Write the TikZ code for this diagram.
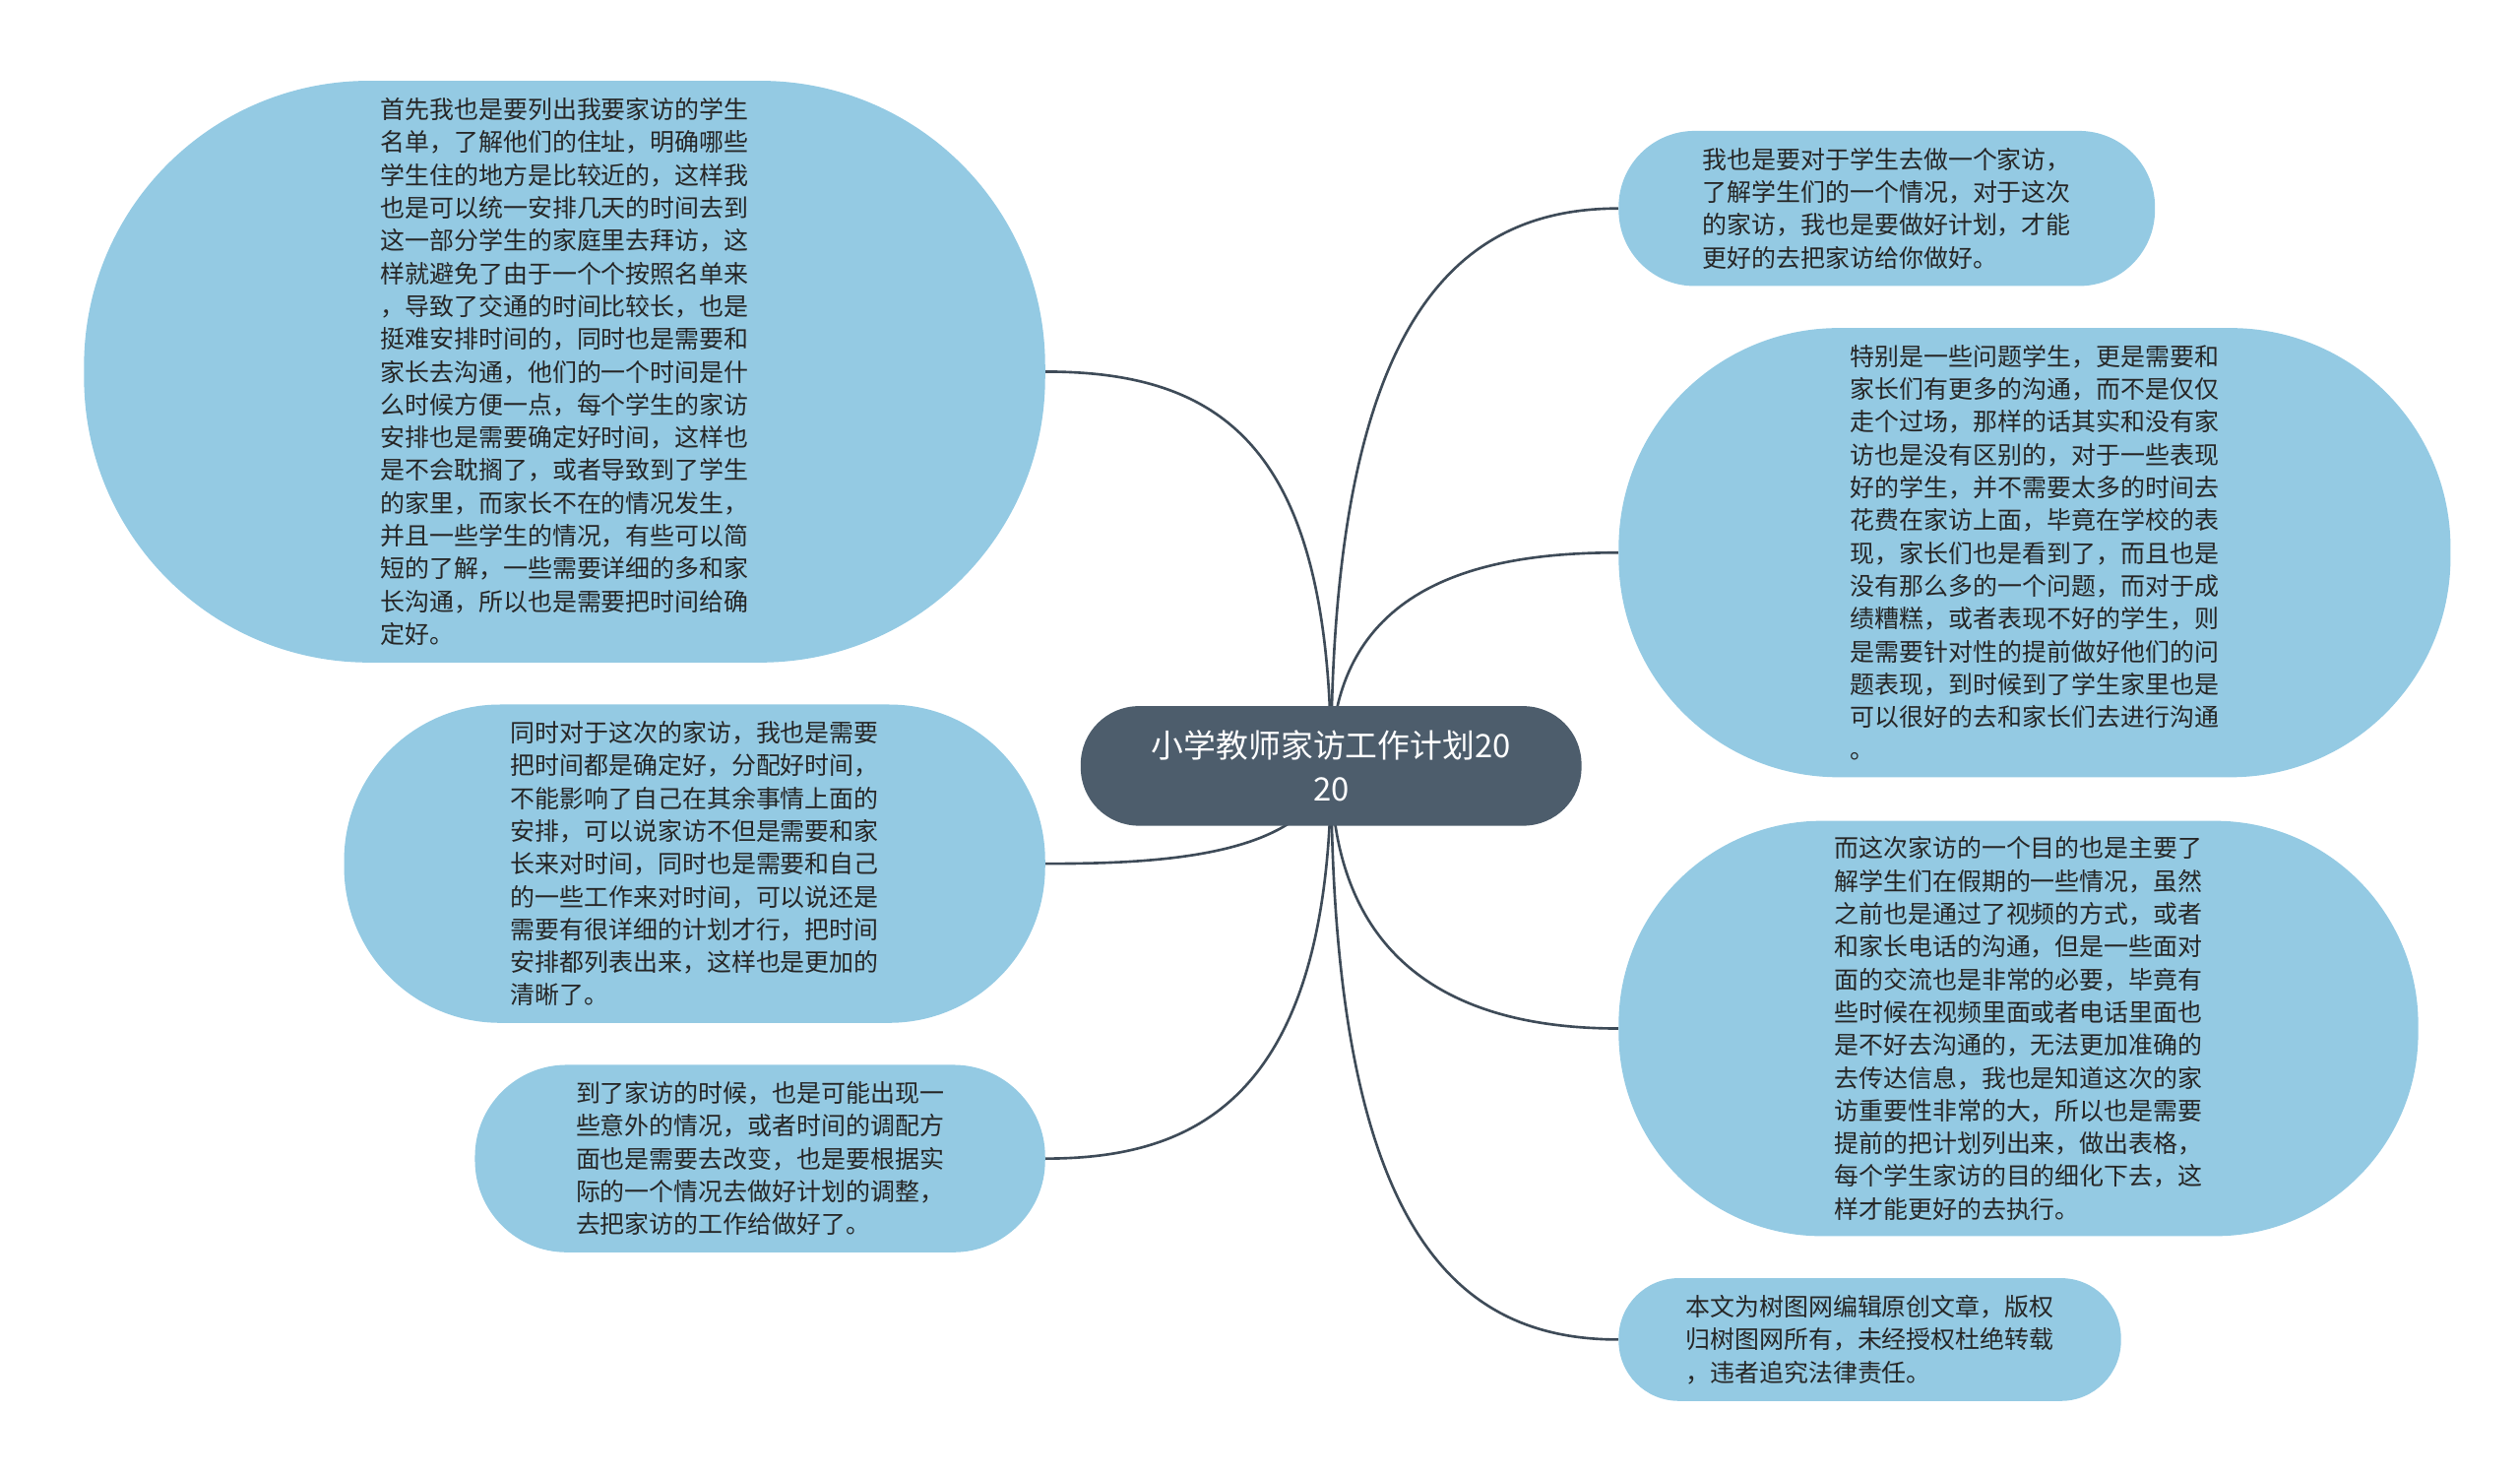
\documentclass[tikz,border=0pt]{standalone}
\usepackage{fontspec}
\newfontfamily\cjk{Noto Sans CJK SC}
\usetikzlibrary{backgrounds}
\definecolor{leaf}{HTML}{94CAE3}
\definecolor{hubfill}{HTML}{4D5D6C}
\definecolor{wire}{HTML}{3E4B58}

\begin{document}
\begin{tikzpicture}[x=1pt, y=-1pt,
    leaf/.style 2 args={fill=leaf, text=black!85, align=left, inner sep=0pt,
      minimum width=#1pt, minimum height=#2pt, rounded corners=0.49*#2pt,
      font=\cjk\fontsize{15.2}{20.3}\selectfont},
    hub/.style={fill=hubfill, text=white, align=center, inner sep=0pt,
      minimum width=310pt, minimum height=74pt, rounded corners=36pt,
      font=\cjk\fontsize{20}{27}\selectfont},
    wire/.style={draw=wire, line width=1.6pt}]
  \useasboundingbox (0,0) rectangle (1560,913);

  \path (824,474) node[name=root, hub] {小学教师家访工作计划20\\20};

  % left side
  \path (349.5,230) node[name=l1, leaf={595}{360}] {首先我也是要列出我要家访的学生\\名单，了解他们的住址，明确哪些\\学生住的地方是比较近的，这样我\\也是可以统一安排几天的时间去到\\这一部分学生的家庭里去拜访，这\\样就避免了由于一个个按照名单来\\，导致了交通的时间比较长，也是\\挺难安排时间的，同时也是需要和\\家长去沟通，他们的一个时间是什\\么时候方便一点，每个学生的家访\\安排也是需要确定好时间，这样也\\是不会耽搁了，或者导致到了学生\\的家里，而家长不在的情况发生，\\并且一些学生的情况，有些可以简\\短的了解，一些需要详细的多和家\\长沟通，所以也是需要把时间给确\\定好。};
  \path (430,534.5) node[name=l2, leaf={434}{197}] {同时对于这次的家访，我也是需要\\把时间都是确定好，分配好时间，\\不能影响了自己在其余事情上面的\\安排，可以说家访不但是需要和家\\长来对时间，同时也是需要和自己\\的一些工作来对时间，可以说还是\\需要有很详细的计划才行，把时间\\安排都列表出来，这样也是更加的\\清晰了。};
  \path (470.5,717) node[name=l3, leaf={353}{116}] {到了家访的时候，也是可能出现一\\些意外的情况，或者时间的调配方\\面也是需要去改变，也是要根据实\\际的一个情况去做好计划的调整，\\去把家访的工作给做好了。};

  % right side
  \path (1168,129) node[name=r1, leaf={332}{96}] {我也是要对于学生去做一个家访，\\了解学生们的一个情况，对于这次\\的家访，我也是要做好计划，才能\\更好的去把家访给你做好。};
  \path (1259.5,342) node[name=r2, leaf={515}{278}] {特别是一些问题学生，更是需要和\\家长们有更多的沟通，而不是仅仅\\走个过场，那样的话其实和没有家\\访也是没有区别的，对于一些表现\\好的学生，并不需要太多的时间去\\花费在家访上面，毕竟在学校的表\\现，家长们也是看到了，而且也是\\没有那么多的一个问题，而对于成\\绩糟糕，或者表现不好的学生，则\\是需要针对性的提前做好他们的问\\题表现，到时候到了学生家里也是\\可以很好的去和家长们去进行沟通\\。};
  \path (1249.5,636.5) node[name=r3, leaf={495}{257}] {而这次家访的一个目的也是主要了\\解学生们在假期的一些情况，虽然\\之前也是通过了视频的方式，或者\\和家长电话的沟通，但是一些面对\\面的交流也是非常的必要，毕竟有\\些时候在视频里面或者电话里面也\\是不好去沟通的，无法更加准确的\\去传达信息，我也是知道这次的家\\访重要性非常的大，所以也是需要\\提前的把计划列出来，做出表格，\\每个学生家访的目的细化下去，这\\样才能更好的去执行。};
  \path (1157.5,829) node[name=r4, leaf={311}{76}] {本文为树图网编辑原创文章，版权\\归树图网所有，未经授权杜绝转载\\，违者追究法律责任。};

  \begin{scope}[on background layer]
    \draw[wire] (root.center) .. controls (824,280) and (760,230) .. (l1.east);
    \draw[wire] (root.center) .. controls (812,530) and (720,534.5) .. (l2.east);
    \draw[wire] (root.center) .. controls (824,680) and (740,717) .. (l3.east);
    \draw[wire] (root.center) .. controls (824,200) and (900,129) .. (r1.west);
    \draw[wire] (root.center) .. controls (824,360) and (920,342) .. (r2.west);
    \draw[wire] (root.center) .. controls (824,610) and (920,636.5) .. (r3.west);
    \draw[wire] (root.center) .. controls (824,760) and (900,829) .. (r4.west);
  \end{scope}
\end{tikzpicture}
\end{document}
